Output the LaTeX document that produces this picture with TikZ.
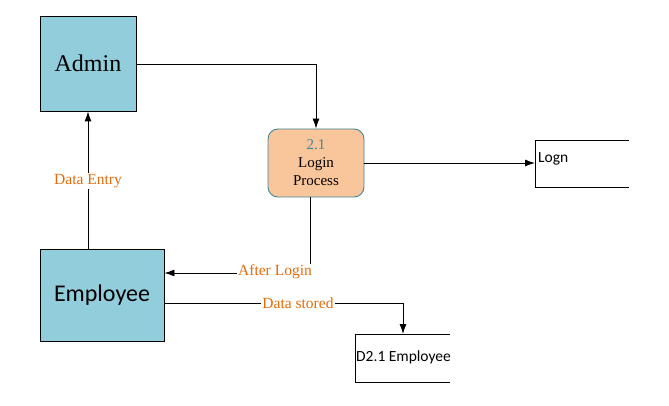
\documentclass[tikz,border=0pt]{standalone}
\usepackage{fontspec}
\setmainfont{Liberation Serif}
\newfontfamily\calib{Carlito}
\usetikzlibrary{arrows.meta}
\definecolor{entblue}{HTML}{92CDDC}
\definecolor{procfill}{HTML}{F9C59B}
\definecolor{procedge}{HTML}{41869B}
\definecolor{lblorange}{HTML}{E36C09}
\begin{document}
\begin{tikzpicture}[x=1pt,y=-1pt,
  entity/.style={draw=black,fill=entblue,line width=0.9pt,inner sep=0pt},
  procbox/.style={draw=procedge,fill=procfill,rounded corners=10pt,line width=0.9pt,inner sep=0pt,minimum width=96pt,minimum height=68pt,align=center,font=\fontsize{15}{18}\selectfont},
  flow/.style={draw=black,line width=0.9pt,-{Latex[length=10pt,width=7pt]}},
  flowlbl/.style={fill=white,text=lblorange,inner sep=1pt,font=\fontsize{15.5}{17}\selectfont},
  storetxt/.style={font=\calib\fontsize{15.5}{17}\selectfont,inner sep=0pt,anchor=west}]
\useasboundingbox (0,0) rectangle (669,406);
\node[entity,minimum width=96pt,minimum height=95pt,font=\fontsize{24}{28}\selectfont] (admin) at (88,63.5) {Admin};
\node[entity,minimum width=124pt,minimum height=92pt,font=\calib\fontsize{24}{28}\selectfont] (emp) at (102,295) {Employee};
\node[procbox] (proc) at (316,163) {\textcolor{procedge}{2.1}\\Login\\Process};
% data stores
\coordinate (lgTL) at (535,140);
\coordinate (lgBL) at (535,187);
\draw[line width=0.9pt] (629,140) -- (lgTL) -- (lgBL) -- (629,187);
\node[storetxt] (logn) at (538,159) {Logn};
\coordinate (dsTL) at (355,334);
\draw[line width=0.9pt] (450,334) -- (dsTL) -- (355,382) -- (450,382);
\node[storetxt] (dstore) at (356,357) {D2.1 Employee};
% flows
\draw[flow] (admin.east |- 0,64) -- (316,64) -- (proc.north);
\draw[flow] (proc.east) -- (535,163);
\draw[flow] (310,197) -- (310,273) -- (emp.east |- 0,273);
\node[flowlbl] (lbl1) at (275,272) {After Login};
\draw[flow] (emp.east |- 0,303) -- (403,303) -- (403,334);
\node[flowlbl] (lbl2) at (298,303) {Data stored};
\draw[flow] (emp.north -| 88,0) -- (admin.south);
\node[flowlbl] (lbl3) at (88,181) {Data Entry};
\end{tikzpicture}
\end{document}
